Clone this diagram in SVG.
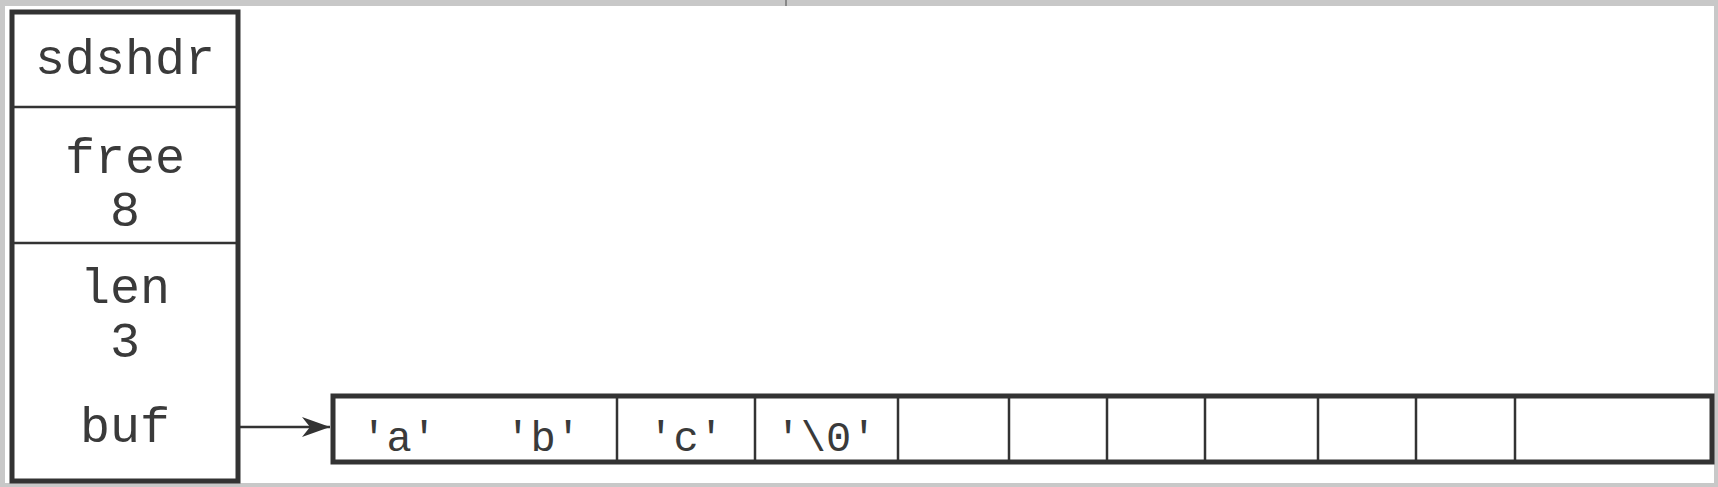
<svg xmlns="http://www.w3.org/2000/svg" width="1718" height="487" viewBox="0 0 1718 487">
<style>
.lbl{font-family:"Liberation Mono","Courier New",monospace;font-size:50px;fill:#3a3a3a;text-anchor:middle}
.cell{font-family:"Liberation Mono","Courier New",monospace;font-size:42px;fill:#3a3a3a;text-anchor:middle}
.thick{fill:none;stroke:#333;stroke-width:5}
.thin{fill:none;stroke:#333;stroke-width:2.5}
</style>
<defs>
<marker id="ah" markerWidth="30" markerHeight="22" refX="28" refY="11" orient="auto" markerUnits="userSpaceOnUse">
<path d="M0,1 L28,11 L0,21 L8,11 Z" fill="#333"/>
</marker>
</defs>
<rect x="0" y="0" width="1718" height="487" fill="#c8c8c8"/>
<rect x="5" y="6" width="1709" height="477" fill="#ffffff"/>
<line x1="786" y1="0" x2="786" y2="6" stroke="#888" stroke-width="2"/>
<g id="sdshdr">
<rect class="thick" x="12" y="12" width="226" height="469"/>
<line class="thin" x1="12" y1="107" x2="238" y2="107"/>
<line class="thin" x1="12" y1="243" x2="238" y2="243"/>
<text class="lbl" x="125" y="74">sdshdr</text>
<text class="lbl" x="125" y="173">free</text>
<text class="lbl" x="125" y="226">8</text>
<text class="lbl" x="125" y="303">len</text>
<text class="lbl" x="125" y="357">3</text>
<text class="lbl" x="125" y="442">buf</text>
</g>
<g id="buf-array">
<rect class="thick" x="333" y="396" width="1379" height="66"/>
<g class="thin">
<line x1="617" y1="396" x2="617" y2="462"/>
<line x1="755" y1="396" x2="755" y2="462"/>
<line x1="898" y1="396" x2="898" y2="462"/>
<line x1="1009" y1="396" x2="1009" y2="462"/>
<line x1="1107" y1="396" x2="1107" y2="462"/>
<line x1="1205" y1="396" x2="1205" y2="462"/>
<line x1="1318" y1="396" x2="1318" y2="462"/>
<line x1="1416" y1="396" x2="1416" y2="462"/>
<line x1="1515" y1="396" x2="1515" y2="462"/>
</g>
<text class="cell" x="399" y="451">'a'</text>
<text class="cell" x="543" y="451">'b'</text>
<text class="cell" x="686" y="451">'c'</text>
<text class="cell" x="826" y="451">'\0'</text>
</g>
<g id="connectors">
<line x1="240" y1="427" x2="330" y2="427" stroke="#333" stroke-width="2.5" marker-end="url(#ah)"/>
</g>
</svg>
